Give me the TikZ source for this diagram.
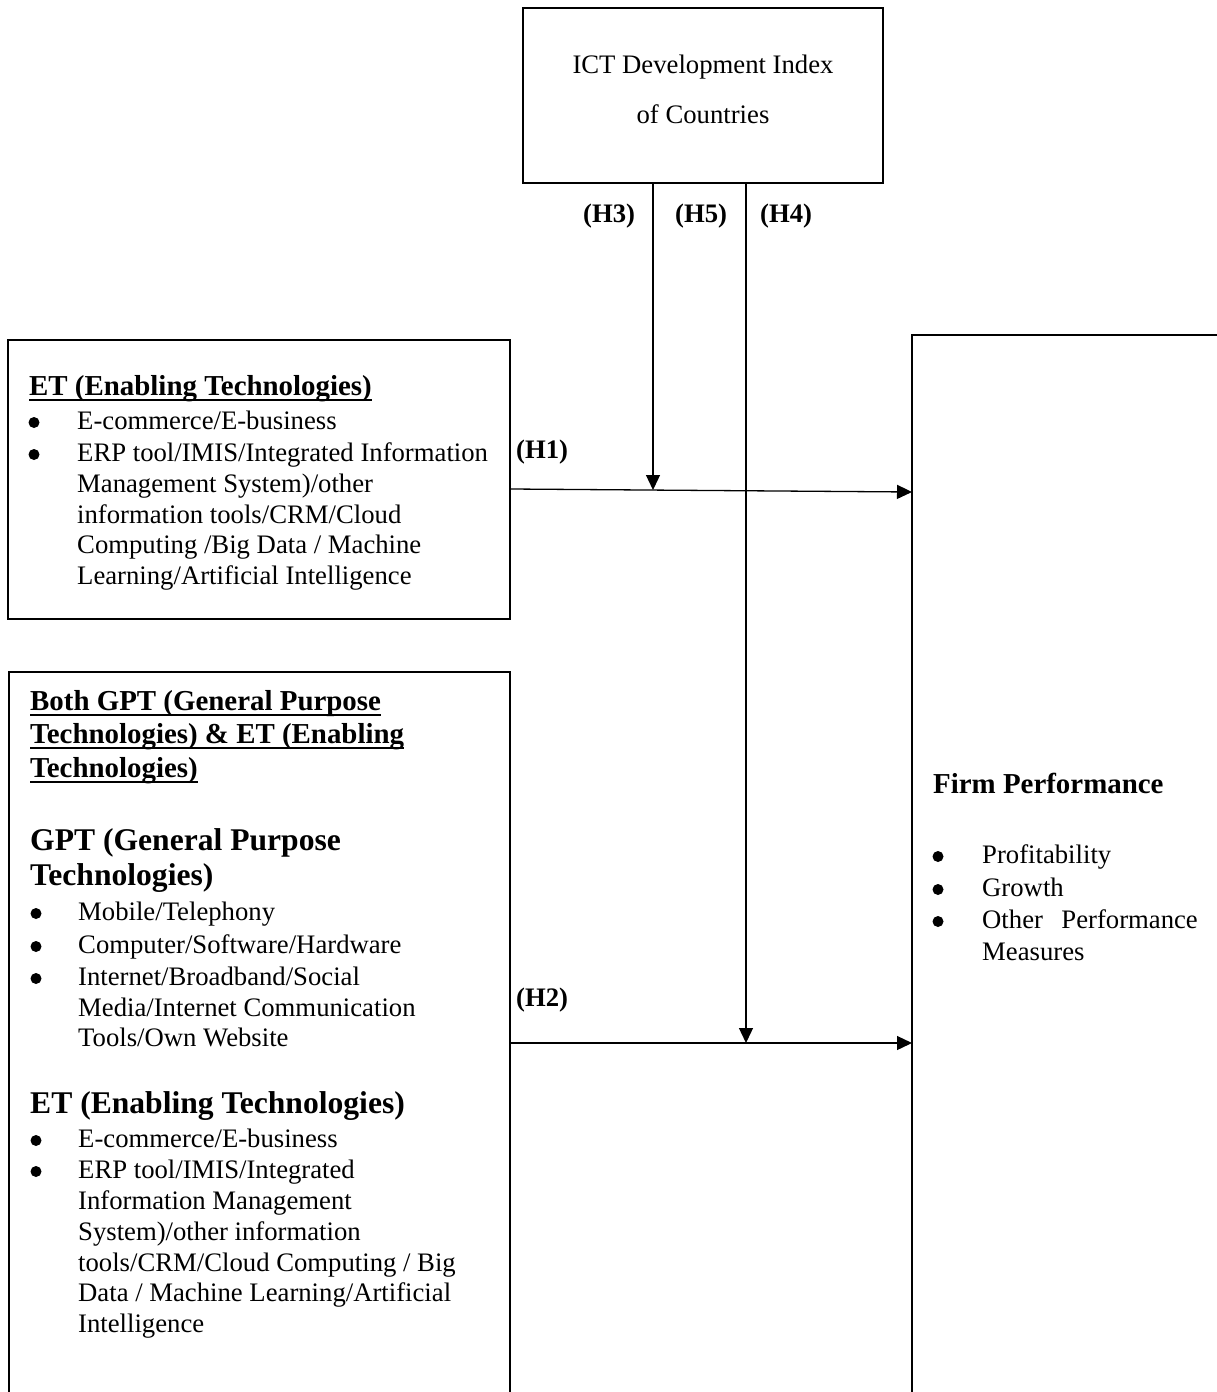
\documentclass[tikz,border=0pt]{standalone}
\usepackage{fontspec}
\setmainfont{Liberation Serif}
\usetikzlibrary{arrows.meta}
\begin{document}
\begin{tikzpicture}[x=1pt,y=-1pt,
  box/.style={draw, line width=2pt, inner sep=0pt},
  tx/.style={anchor=base west, inner sep=0pt, font=\fontsize{26.7}{32}\selectfont},
  txc/.style={tx, anchor=base},
  hd/.style={tx, font=\fontsize{28.9}{34}\selectfont\bfseries},
  bighd/.style={tx, font=\fontsize{31.6}{36}\selectfont\bfseries},
  lab/.style={tx, font=\fontsize{26.7}{32}\selectfont\bfseries},
  bul/.style={circle, fill, inner sep=0pt, minimum size=11pt, yshift=6.5pt},
  uline/.style={line width=1.8pt},
  arr/.style={line width=1.3pt, -{Triangle[length=15pt,width=14pt]}}]
\useasboundingbox (0,0) rectangle (1217,1392);
\clip (0,0) rectangle (1217,1392);
\fill[white] (0,0) rectangle (1217,1392);

% boxes
\node[box, minimum width=360pt, minimum height=175pt] (ict) at (703,95.5) {};
\node[box, minimum width=502pt, minimum height=279pt] (et) at (259,479.5) {};
\node[box, minimum width=501pt, minimum height=738pt] (gpt) at (259,1041) {};
\node[box, minimum width=323pt, minimum height=1075pt] (fp) at (1073.5,872.5) {};

% top box text
\node[txc] (ict1) at (703,73) {ICT Development Index};
\node[txc] (ict2) at (703,123) {of Countries};

% labels
\node[lab] (lh3) at (583,222) {(H3)};
\node[lab] (lh5) at (675,222) {(H5)};
\node[lab] (lh4) at (760,222) {(H4)};
\node[lab] (lh1) at (516,458) {(H1)};
\node[lab] (lh2) at (516,1006) {(H2)};

% ET box text
\node[hd] (e0) at (29,395) {ET (Enabling Technologies)};
\node[bul] (eb1) at (34,429) {};
\node[bul] (eb2) at (34,461) {};
\node[tx] (e1) at (77,429) {E-commerce/E-business};
\node[tx] (e2) at (77,461) {ERP tool/IMIS/Integrated Information};
\node[tx] (e3) at (77,492) {Management System)/other};
\node[tx] (e4) at (77,523) {information tools/CRM/Cloud};
\node[tx] (e5) at (77,553) {Computing /Big Data / Machine};
\node[tx] (e6) at (77,584) {Learning/Artificial Intelligence};

% GPT box text
\node[hd] (g0a) at (30,710) {Both GPT (General Purpose};
\node[hd] (g0b) at (30,743) {Technologies) \& ET (Enabling};
\node[hd] (g0c) at (30,777) {Technologies)};
\node[bighd] (g1a) at (30,850) {GPT (General Purpose};
\node[bighd] (g1b) at (30,885) {Technologies)};
\node[bul] (gb1) at (36,920) {};
\node[bul] (gb2) at (36,953) {};
\node[bul] (gb3) at (36,985) {};
\node[tx] (g2) at (78,920) {Mobile/Telephony};
\node[tx] (g3) at (78,953) {Computer/Software/Hardware};
\node[tx] (g4) at (78,985) {Internet/Broadband/Social};
\node[tx] (g5) at (78,1016) {Media/Internet Communication};
\node[tx] (g6) at (78,1046) {Tools/Own Website};
\node[bighd] (g7) at (30,1113) {ET (Enabling Technologies)};
\node[bul] (gb4) at (36,1147) {};
\node[bul] (gb5) at (36,1178) {};
\node[tx] (g8) at (78,1147) {E-commerce/E-business};
\node[tx] (g9) at (78,1178) {ERP tool/IMIS/Integrated};
\node[tx] (g10) at (78,1209) {Information Management};
\node[tx] (g11) at (78,1240) {System)/other information};
\node[tx] (g12) at (78,1271) {tools/CRM/Cloud Computing / Big};
\node[tx] (g13) at (78,1301) {Data / Machine Learning/Artificial};
\node[tx] (g14) at (78,1332) {Intelligence};

% underlines
\foreach \n in {e0,g0a,g0b,g0c}
  \draw[uline] ([yshift=-5pt]\n.base west) -- ([yshift=-5pt]\n.base east);

% Firm performance text
\node[hd] (f0) at (933,793) {Firm Performance};
\node[bul] (fb1) at (938,863) {};
\node[bul] (fb2) at (938,896) {};
\node[bul] (fb3) at (938,928) {};
\node[tx] (f1) at (982,863) {Profitability};
\node[tx] (f2) at (982,896) {Growth};
\node[tx] (f3a) at (982,928) {Other};
\node[tx, anchor=base east] (f3b) at (1198,928) {Performance};
\node[tx] (f4) at (982,960) {Measures};

% connector points
\coordinate (h1s) at ([yshift=-9.5pt]et.east);
\coordinate (h1e) at (912,492);
\coordinate (h2s) at (510,1043);
\coordinate (h2e) at (912,1043);
\coordinate (h3s) at (653,183);
\coordinate (h3e) at (653,490);
\coordinate (h4s) at (746,183);
\coordinate (h4e) at (746,1043);

\draw[arr] (h1s) -- (h1e);
\draw[arr] (h2s) -- (h2e);
\draw[arr] (h3s) -- (h3e);
\draw[arr] (h4s) -- (h4e);
\end{tikzpicture}
\end{document}
